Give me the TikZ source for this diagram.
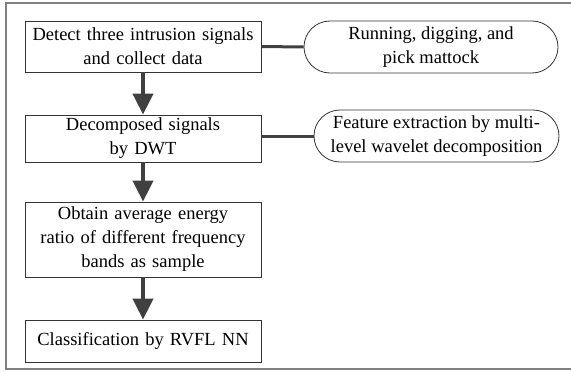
\documentclass[tikz,border=0pt]{standalone}
\usepackage{fontspec}
\setmainfont{Liberation Serif}
\usetikzlibrary{arrows.meta,shapes.misc}

\tikzset{
  stepbox/.style={draw=black!80, line width=0.8pt, text width=234pt, inner sep=1pt,
    align=center, font=\fontsize{18.5}{24}\selectfont},
  notebox/.style={draw=black!80, line width=0.8pt, rounded rectangle, align=center,
    inner sep=1pt, minimum height=52pt, font=\fontsize{18.5}{24}\selectfont},
  flow/.style={draw=black!75, line width=4pt, -{Triangle[width=20pt,length=21pt]}},
  link/.style={draw=black!75, line width=3pt}
}

\begin{document}
\begin{tikzpicture}[x=1pt, y=-1pt]
        \useasboundingbox (0,0) rectangle (571,372);
        % Frame
        \draw[black!50, line width=1.5pt] (571,3) -- (6,3) -- (6,369) -- (571,369);

        % Steps
        \node[stepbox, minimum height=51pt] (detect) at (143,46.5) {Detect three intrusion signals\\ and collect data};
        \node[stepbox, minimum height=47pt] (dwt) at (143,138.5) {Decomposed signals\\ by DWT};
        \node[stepbox, minimum height=75pt] (ratio) at (143,239.5) {Obtain average energy\\ ratio of different frequency\\ bands as sample};
        \node[stepbox, minimum height=42pt] (rvfl) at (143,341) {Classification by RVFL NN};

        % Notes
        \node[notebox, minimum width=256pt] (kinds) at (431,47) {Running, digging, and\\ pick mattock};
        \node[notebox, minimum width=247pt] (feat) at (436.5,136) {Feature extraction by multi-\\ level wavelet decomposition};

        % Edges
        \draw[flow] (detect) -- (dwt);
        \draw[flow] (dwt) -- (ratio);
        \draw[flow] (ratio) -- (rvfl);
        \draw[link] (detect.east) -- (kinds.west);
        \draw[link] (dwt.east |- feat.west) -- (feat.west);
\end{tikzpicture}
\end{document}
